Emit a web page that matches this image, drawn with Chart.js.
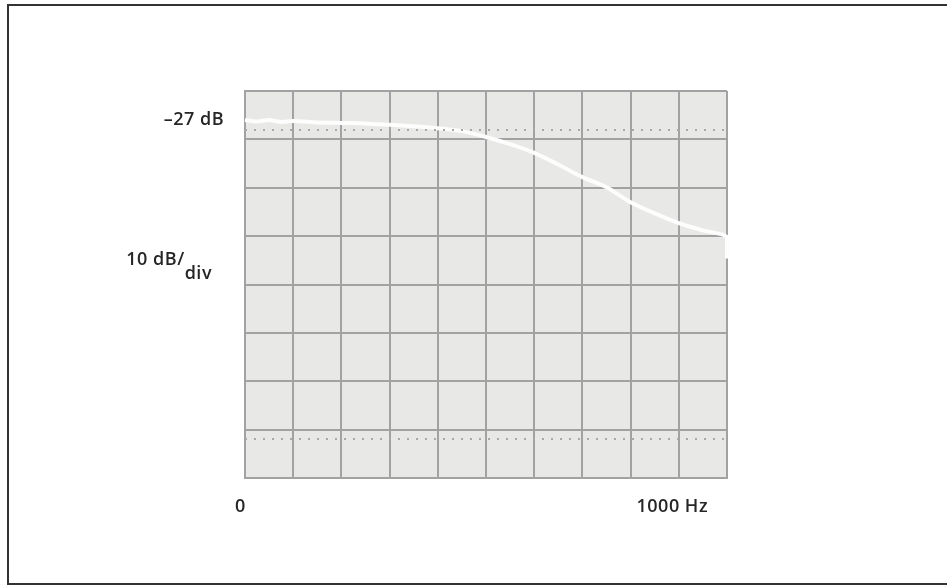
<!DOCTYPE html>
<html>
<head>
<meta charset="utf-8">
<script src="https://cdn.jsdelivr.net/npm/chart.js@4/dist/chart.umd.min.js"></script>
<style>
  html, body { margin: 0; padding: 0; background: #fff; overflow: hidden; }
  #wrap { position: relative; width: 947px; height: 586px; }
  #frame { position: absolute; left: 7px; top: 4px; width: 960px; height: 577px; border: 2px solid #333; box-sizing: content-box; }
  canvas { position: absolute; left: 0; top: 0; }
</style>
</head>
<body>
<div id="wrap">
  <div id="frame"></div>
  <canvas id="screen" width="947" height="586"></canvas>
</div>
<script>
var freqHz  = [0, 25, 50, 75, 100, 150, 200, 250, 300, 350, 400, 450, 500,
               550, 600, 650, 700, 750, 800, 850, 900, 950, 1000, 1000];
var levelDb = [-27.0, -27.3, -27.0, -27.4, -27.2, -27.5, -27.6, -27.7, -28.0, -28.3, -28.7, -29.3, -30.5,
               -32.0, -33.8, -36.2, -38.8, -40.9, -44.0, -46.3, -48.3, -49.8, -51.2, -55.6];

var xMin = 0, xMax = 1000, xStep = 100;
var yMin = -101, yMax = -21, yStep = 10;

var refLabel   = '–27 dB';
var refValue   = -27;
var scaleMain  = '10 dB/';
var scaleSub   = 'div';
var startLabel = '0';
var stopLabel  = '1000 Hz';

/* 10% / 90% dotted markers on the graticule */
var markerDb = [-29, -93];

var points = freqHz.map(function (f, i) { return { x: f, y: levelDb[i] }; });

var graticule = {
    id: 'graticule',
    beforeDraw: function (chart) {
        var a = chart.chartArea, ctx = chart.ctx;
        ctx.save();
        ctx.fillStyle = '#e8e8e6';
        ctx.fillRect(a.left, a.top, a.right - a.left, a.bottom - a.top);
        ctx.restore();
    },
    afterDraw: function (chart) {
        var a = chart.chartArea, ctx = chart.ctx;
        var xs = chart.scales.x, ys = chart.scales.y;
        ctx.save();

        // dotted marker rows
        ctx.strokeStyle = '#a8a8a8';
        ctx.lineWidth = 2;
        ctx.setLineDash([2, 7]);
        markerDb.forEach(function (v) {
            var y = Math.round(ys.getPixelForValue(v));
            ctx.beginPath();
            ctx.moveTo(a.left, y);
            ctx.lineTo(a.right, y);
            ctx.stroke();
        });
        ctx.setLineDash([]);

        // annotations
        ctx.fillStyle = '#262626';
        ctx.font = '600 18px "Open Sans", sans-serif';
        ctx.letterSpacing = '0.5px';
        ctx.textBaseline = 'middle';

        ctx.textAlign = 'right';
        ctx.fillText(refLabel, a.left - 21, ys.getPixelForValue(refValue));

        var yScale = ys.getPixelForValue(-56);
        var subW = ctx.measureText(scaleSub).width;
        ctx.fillText(scaleSub, a.left - 33, yScale + 14);
        ctx.fillText(scaleMain, a.left - 33 - subW, yScale);

        ctx.textAlign = 'left';
        ctx.fillText(startLabel, xs.getPixelForValue(xMin) - 10, a.bottom + 29);
        ctx.textAlign = 'right';
        ctx.fillText(stopLabel, xs.getPixelForValue(xMax) - 19, a.bottom + 29);
        ctx.restore();
    }
};

new Chart(document.getElementById('screen').getContext('2d'), {
    type: 'scatter',
    data: {
        datasets: [{
            data: points,
            showLine: true,
            borderColor: '#fdfdfd',
            borderWidth: 4,
            pointRadius: 0,
            tension: 0.25,
            clip: 4
        }]
    },
    options: {
        responsive: false,
        animation: false,
        layout: { padding: { left: 245, top: 91, right: 220, bottom: 108 } },
        plugins: { legend: { display: false }, tooltip: { enabled: false } },
        scales: {
            x: {
                type: 'linear', min: xMin, max: xMax,
                ticks: { display: false, stepSize: xStep },
                grid: { color: '#a2a2a2', lineWidth: 2, drawTicks: false },
                border: { color: '#a2a2a2', width: 2 }
            },
            y: {
                type: 'linear', min: yMin, max: yMax,
                ticks: { display: false, stepSize: yStep },
                grid: { color: '#a2a2a2', lineWidth: 2, drawTicks: false },
                border: { color: '#a2a2a2', width: 2 }
            }
        }
    },
    plugins: [graticule]
});
</script>
</body>
</html>
